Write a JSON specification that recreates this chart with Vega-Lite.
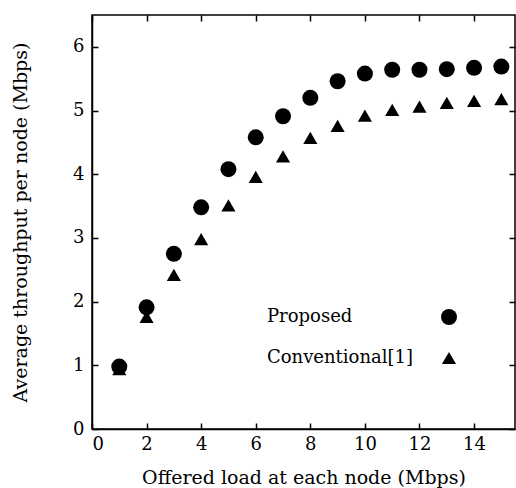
{
  "$schema": "https://vega.github.io/schema/vega-lite/v6.json",
  "width": 423,
  "height": 414,
  "autosize": "none",
  "padding": {"left": 92, "top": 15, "right": 1, "bottom": 59},
  "background": "white",
  "config": {
    "view": {"stroke": "black", "strokeWidth": 1.5}
  },
  "data": {
    "values": [
      {"load": 1, "throughput": 0.98, "scheme": "Proposed"},
      {"load": 2, "throughput": 1.91, "scheme": "Proposed"},
      {"load": 3, "throughput": 2.75, "scheme": "Proposed"},
      {"load": 4, "throughput": 3.48, "scheme": "Proposed"},
      {"load": 5, "throughput": 4.08, "scheme": "Proposed"},
      {"load": 6, "throughput": 4.58, "scheme": "Proposed"},
      {"load": 7, "throughput": 4.91, "scheme": "Proposed"},
      {"load": 8, "throughput": 5.2, "scheme": "Proposed"},
      {"load": 9, "throughput": 5.46, "scheme": "Proposed"},
      {"load": 10, "throughput": 5.58, "scheme": "Proposed"},
      {"load": 11, "throughput": 5.64, "scheme": "Proposed"},
      {"load": 12, "throughput": 5.64, "scheme": "Proposed"},
      {"load": 13, "throughput": 5.65, "scheme": "Proposed"},
      {"load": 14, "throughput": 5.67, "scheme": "Proposed"},
      {"load": 15, "throughput": 5.69, "scheme": "Proposed"},
      {"load": 1, "throughput": 0.94, "scheme": "Conventional[1]"},
      {"load": 2, "throughput": 1.76, "scheme": "Conventional[1]"},
      {"load": 3, "throughput": 2.42, "scheme": "Conventional[1]"},
      {"load": 4, "throughput": 2.98, "scheme": "Conventional[1]"},
      {"load": 5, "throughput": 3.51, "scheme": "Conventional[1]"},
      {"load": 6, "throughput": 3.96, "scheme": "Conventional[1]"},
      {"load": 7, "throughput": 4.28, "scheme": "Conventional[1]"},
      {"load": 8, "throughput": 4.57, "scheme": "Conventional[1]"},
      {"load": 9, "throughput": 4.76, "scheme": "Conventional[1]"},
      {"load": 10, "throughput": 4.92, "scheme": "Conventional[1]"},
      {"load": 11, "throughput": 5.01, "scheme": "Conventional[1]"},
      {"load": 12, "throughput": 5.06, "scheme": "Conventional[1]"},
      {"load": 13, "throughput": 5.12, "scheme": "Conventional[1]"},
      {"load": 14, "throughput": 5.15, "scheme": "Conventional[1]"},
      {"load": 15, "throughput": 5.18, "scheme": "Conventional[1]"}
    ]
  },
  "layer": [
    {
      "mark": {"type": "point", "filled": true, "opacity": 1, "color": "black"},
      "encoding": {
        "x": {
          "field": "load", "type": "quantitative",
          "scale": {"domain": [0, 15.5], "nice": false, "zero": false},
          "axis": {
            "orient": "bottom", "values": [0, 2, 4, 6, 8, 10, 12, 14],
            "grid": false, "domainColor": "black", "domainWidth": 1.5, "tickColor": "black", "tickWidth": 1.5, "tickSize": -6,
            "labelFont": "DejaVu Serif", "labelFontSize": 18, "labelColor": "black", "labelPadding": 12,
            "title": "Offered load at each node (Mbps)", "titleFont": "DejaVu Serif", "titleFontSize": 19, "titleFontWeight": "normal", "titleColor": "black", "titlePadding": 15
          }
        },
        "y": {
          "field": "throughput", "type": "quantitative",
          "scale": {"domain": [0, 6.5], "nice": false},
          "axis": {
            "orient": "left", "values": [0, 1, 2, 3, 4, 5, 6],
            "grid": false, "domainColor": "black", "domainWidth": 1.5, "tickColor": "black", "tickWidth": 1.5, "tickSize": -6,
            "labelFont": "DejaVu Serif", "labelFontSize": 18, "labelColor": "black", "labelPadding": 14,
            "title": "Average throughput per node (Mbps)", "titleFont": "DejaVu Serif", "titleFontSize": 19, "titleFontWeight": "normal", "titleColor": "black", "titlePadding": 42
          }
        },
        "shape": {
          "field": "scheme", "type": "nominal",
          "scale": {"domain": ["Proposed", "Conventional[1]"], "range": ["circle", "triangle-up"]},
          "legend": {
            "orient": "none", "legendX": 348, "legendY": 293, "title": null,
            "labelFont": "DejaVu Serif", "labelFontSize": 18, "labelColor": "black",
            "labelAlign": "left", "labelOffset": -191, "rowPadding": 20,
            "symbolFillColor": "black", "symbolStrokeColor": "black", "symbolOpacity": 1
          }
        },
        "size": {
          "field": "scheme", "type": "nominal",
          "scale": {"domain": ["Proposed", "Conventional[1]"], "range": [256, 200]}
        }
      }
    },
    {
      "mark": {"type": "point", "opacity": 0},
      "encoding": {
        "x": {
          "field": "load", "type": "quantitative",
          "axis": {"orient": "top", "values": [0, 2, 4, 6, 8, 10, 12, 14], "labels": false, "title": null, "grid": false, "domain": false, "tickColor": "black", "tickWidth": 1.5, "tickSize": -6}
        },
        "y": {
          "field": "throughput", "type": "quantitative",
          "axis": {"orient": "right", "values": [0, 1, 2, 3, 4, 5, 6], "labels": false, "title": null, "grid": false, "domain": false, "tickColor": "black", "tickWidth": 1.5, "tickSize": -6}
        }
      }
    }
  ],
  "resolve": {"axis": {"x": "independent", "y": "independent"}}
}
